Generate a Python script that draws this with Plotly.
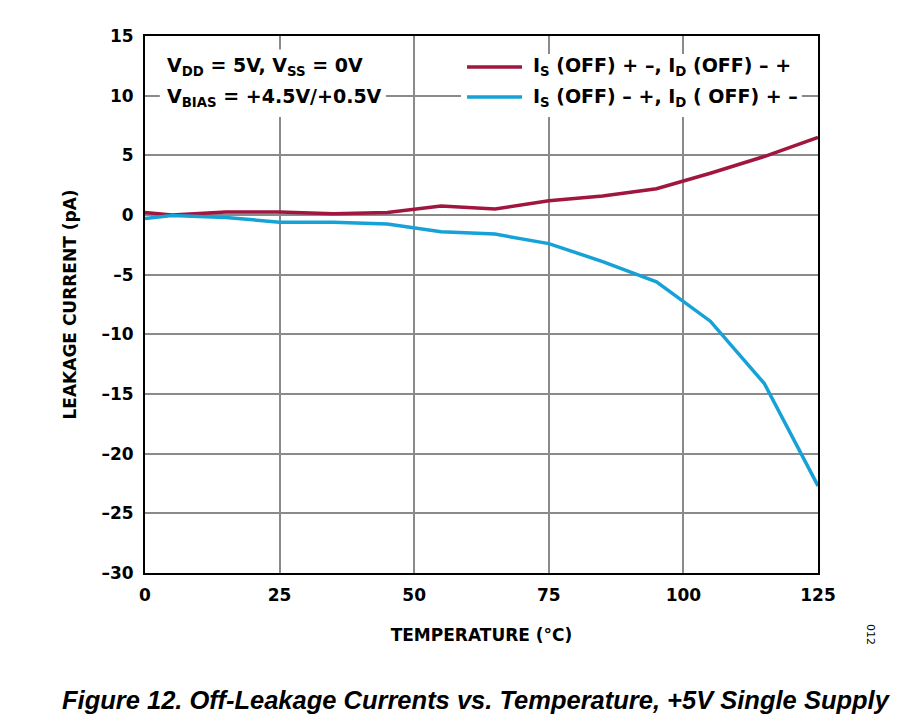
import plotly.graph_objects as go

temperature = [0, 5, 15, 25, 35, 45, 55, 65, 75, 85, 95, 105, 115, 125]
i_s_pm = [0.2, 0.0, 0.25, 0.25, 0.1, 0.2, 0.75, 0.5, 1.2, 1.6, 2.2, 3.5, 4.9, 6.5]
i_s_mp = [-0.3, -0.05, -0.2, -0.6, -0.6, -0.75, -1.4, -1.6, -2.4, -3.9, -5.6, -8.9, -14.1, -22.7]

x_ticks = [0, 25, 50, 75, 100, 125]
y_ticks = [15, 10, 5, 0, -5, -10, -15, -20, -25, -30]
y_tick_text = [str(v) if v >= 0 else "\u2013" + str(-v) for v in y_ticks]

name_red = "I<sub>S</sub> (OFF) + \u2013, I<sub>D</sub> (OFF) \u2013 +"
name_blue = "I<sub>S</sub> (OFF) \u2013 +, I<sub>D</sub> ( OFF) + \u2013"
RED = "#A0163F"
BLUE = "#16A2D6"

FONT = "DejaVu Sans, Liberation Sans, Arial, sans-serif"
CAP_FONT = "Liberation Sans, Arial, sans-serif"

fig = go.Figure()
fig.add_trace(go.Scatter(x=temperature, y=i_s_pm, mode="lines", name=name_red,
                         line=dict(color=RED, width=3.5)))
fig.add_trace(go.Scatter(x=temperature, y=i_s_mp, mode="lines", name=name_blue,
                         line=dict(color=BLUE, width=3.5)))

fig.update_layout(
    width=891, height=714,
    margin=dict(l=137, r=81, t=28, b=149),
    paper_bgcolor="white", plot_bgcolor="white",
    font=dict(family=FONT, color="black"),
    showlegend=False,
    xaxis=dict(range=[0, 125], tickvals=x_ticks, ticktext=[str(v) for v in x_ticks],
               showgrid=True, gridcolor="#8a8a8a", gridwidth=1.5,
               showline=True, linecolor="black", linewidth=2, mirror=True,
               ticks="", zeroline=False, ticklabelstandoff=6,
               tickfont=dict(size=17, family=FONT, weight="bold"),
               title=dict(text="TEMPERATURE (\u00b0C)", standoff=25,
                          font=dict(size=17, family=FONT, weight="bold"))),
    yaxis=dict(range=[-30, 15], tickvals=y_ticks, ticktext=y_tick_text,
               showgrid=True, gridcolor="#8a8a8a", gridwidth=1.5,
               showline=True, linecolor="black", linewidth=2, mirror=True,
               ticks="", zeroline=False, ticklabelstandoff=6,
               tickfont=dict(size=17, family=FONT, weight="bold"),
               title=dict(text="LEAKAGE CURRENT (pA)", standoff=20,
                          font=dict(size=17, family=FONT, weight="bold"))),
)

# white boxes behind the legend and the condition text, hiding gridlines
fig.add_shape(type="rect", xref="paper", yref="paper", x0=0.4695, x1=0.976,
              y0=0.849, y1=0.9665, fillcolor="white", line=dict(width=0), layer="above")
fig.add_shape(type="rect", xref="paper", yref="paper", x0=0.022, x1=0.358,
              y0=0.849, y1=0.975, fillcolor="white", line=dict(width=0), layer="above")

legend_rows = [(name_red, RED, 0.9423), (name_blue, BLUE, 0.8864)]
for text, color, yy in legend_rows:
    fig.add_shape(type="line", xref="paper", yref="paper", x0=0.4785, x1=0.5602,
                  y0=yy, y1=yy, line=dict(color=color, width=3.5), layer="above")
    fig.add_annotation(xref="paper", yref="paper", x=0.5735, y=yy, xanchor="left",
                       yanchor="middle", text=text, showarrow=False,
                       font=dict(family=FONT, size=19, color="black", weight="bold"))

fig.add_annotation(
    xref="paper", yref="paper", x=0.0297, y=0.9423, xanchor="left", yanchor="middle",
    text="V<sub>DD</sub> = 5V, V<sub>SS</sub> = 0V",
    showarrow=False, align="left",
    font=dict(family=FONT, size=19, color="black", weight="bold"),
)
fig.add_annotation(
    xref="paper", yref="paper", x=0.0297, y=0.8864, xanchor="left", yanchor="middle",
    text="V<sub>BIAS</sub> = +4.5V/+0.5V",
    showarrow=False, align="left",
    font=dict(family=FONT, size=19, color="black", weight="bold"),
)

fig.add_annotation(
    xref="paper", yref="paper", x=0.4925, y=-0.2365, xanchor="center", yanchor="middle",
    text="<i>Figure 12. Off-Leakage Currents vs. Temperature, +5V Single Supply</i>",
    showarrow=False,
    font=dict(family=CAP_FONT, size=25.5, color="black", weight="bold"),
)

fig.add_annotation(
    xref="paper", yref="paper", x=1.077, y=-0.115, xanchor="center", yanchor="middle",
    text="012", textangle=90, showarrow=False,
    font=dict(family=FONT, size=11, color="black"),
)

fig.write_html("out.html")
